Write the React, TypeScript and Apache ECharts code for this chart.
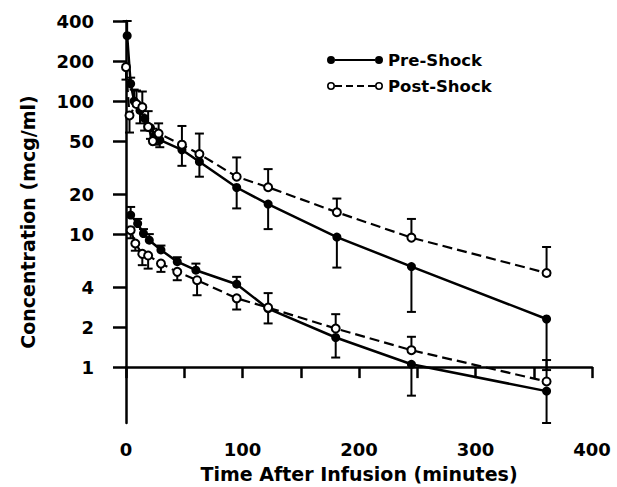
import React, { useEffect, useRef } from 'react';
import * as echarts from 'echarts';

// ---- Data ----
const preUpperTime = [1, 4, 7, 12, 16, 21, 25, 29, 48, 63, 95, 122, 181, 245, 361];
const preUpperConc = [310, 135, 100, 85, 74, 63, 55, 51, 43, 35, 22.4, 16.8, 9.5, 5.7, 2.3];
const preUpperErr = [400, 150, 122, 68, 60, 52, 47, 45, 32.6, 27, 15.6, 10.9, 5.6, 2.6, 0.95];

const postUpperTime = [0, 3, 9, 14, 19, 23, 28, 48, 63, 95, 122, 181, 245, 361];
const postUpperConc = [180, 78, 95, 90, 64, 50, 57, 47, 40, 27, 22.5, 14.6, 9.4, 5.1];
const postUpperErr = [145, 58, 120, 118, 84, 62, 68, 65, 57, 37.7, 30.8, 18.5, 13, 8.0];

const preLowerTime = [4, 10, 15, 20, 30, 44, 60, 95, 122, 180, 245, 361];
const preLowerConc = [13.9, 12, 10.1, 9, 7.6, 6.2, 5.35, 4.2, 2.75, 1.67, 1.05, 0.66];
const preLowerErr = [16, 13, 10.9, 10, 8.2, 6.7, 6.0, 4.77, 2.13, 1.18, 0.61, 0.38];

const postLowerTime = [4, 8, 14, 19, 30, 44, 61, 95, 122, 180, 245, 361];
const postLowerConc = [10.7, 8.5, 7.1, 6.9, 6.0, 5.2, 4.5, 3.29, 2.8, 1.95, 1.34, 0.78];
const postLowerErr = [9.3, 7.5, 5.84, 5.5, 5.2, 4.5, 3.47, 2.71, 3.6, 2.5, 1.69, 1.13];

const yTickValues = [1, 2, 4, 10, 20, 50, 100, 200, 400];
const yMin = 0.38;
const yMax = 400;
const xMin = 0;
const xMax = 400;
const xInterval = 50;

const FONT = '"DejaVu Sans", sans-serif';
const lg = (v: number) => Math.log10(v);

const prePath =
  'path://M0,5A4,4,0,1,1,8,5A4,4,0,1,1,0,5ZM48,5A4,4,0,1,1,56,5A4,4,0,1,1,48,5ZM8,4L48,4L48,6L8,6Z';
const postPath =
  'path://M0,5A4,4,0,1,1,8,5A4,4,0,1,1,0,5ZM1.6,5A2.4,2.4,0,1,0,6.4,5A2.4,2.4,0,1,0,1.6,5Z' +
  'M48,5A4,4,0,1,1,56,5A4,4,0,1,1,48,5ZM49.6,5A2.4,2.4,0,1,0,54.4,5A2.4,2.4,0,1,0,49.6,5Z' +
  'M8,4L15,4L15,6L8,6ZM19,4L26,4L26,6L19,6ZM30,4L37,4L37,6L30,6ZM41,4L48,4L48,6L41,6Z';

function lineData(t: number[], c: number[]) {
  return t.map((x, i) => [x, lg(c[i])]);
}

function errSeries(name: string, t: number[], c: number[], e: number[]) {
  return {
    name,
    type: 'custom',
    silent: true,
    z: 1,
    encode: { x: 0, y: [1, 2] },
    data: t.map((x, i) => [x, lg(c[i]), lg(e[i])]),
    renderItem: (_p: any, api: any) => {
      const p1 = api.coord([api.value(0), api.value(1)]);
      const p2 = api.coord([api.value(0), api.value(2)]);
      return {
        type: 'group',
        children: [
          {
            type: 'line',
            shape: { x1: p1[0], y1: p1[1], x2: p2[0], y2: p2[1] },
            style: { stroke: '#000', lineWidth: 2 },
          },
          {
            type: 'line',
            shape: { x1: p2[0] - 4.5, y1: p2[1], x2: p2[0] + 4.5, y2: p2[1] },
            style: { stroke: '#000', lineWidth: 2 },
          },
        ],
      };
    },
  };
}

function preLine(t: number[], c: number[]) {
  return {
    name: 'Pre-Shock',
    type: 'line',
    z: 3,
    data: lineData(t, c),
    symbol: 'circle',
    symbolSize: 9,
    itemStyle: { color: '#000' },
    lineStyle: { color: '#000', width: 2.5 },
  };
}

function postLine(t: number[], c: number[]) {
  return {
    name: 'Post-Shock',
    type: 'line',
    z: 3,
    data: lineData(t, c),
    symbol: 'emptyCircle',
    symbolSize: 8,
    itemStyle: { color: '#000', borderColor: '#000', borderWidth: 2 },
    lineStyle: { color: '#000', width: 2.2, type: [10, 5] },
  };
}

export default function App() {
  const ref = useRef<HTMLDivElement>(null);

  useEffect(() => {
    if (!ref.current) return;
    const chart = echarts.init(ref.current, null, { renderer: 'svg' });
    const option: any = {
      animation: false,
      backgroundColor: '#fff',
      color: ['#000'],
      textStyle: { fontFamily: FONT },
      grid: {
        left: 126,
        right: 25,
        top: 21,
        bottom: 64,
        containLabel: false,
        outerBoundsMode: 'none',
      },
      legend: {
        orient: 'vertical',
        left: 322,
        top: 46,
        itemWidth: 56,
        itemHeight: 8,
        itemGap: 8,
        selectedMode: false,
        textStyle: {
          fontFamily: FONT,
          fontWeight: 'bold',
          fontSize: 16.5,
          lineHeight: 18,
          color: '#000',
        },
        data: [
          { name: 'Pre-Shock', icon: prePath, itemStyle: { color: '#000', borderWidth: 0 } },
          { name: 'Post-Shock', icon: postPath, itemStyle: { color: '#000', borderWidth: 0 } },
        ],
      },
      xAxis: {
        type: 'value',
        min: xMin,
        max: xMax,
        interval: xInterval,
        offset: 1,
        name: 'Time After Infusion (minutes)',
        nameLocation: 'middle',
        nameGap: 40,
        nameTextStyle: { fontFamily: FONT, fontWeight: 'bold', fontSize: 19, color: '#000' },
        axisLine: { show: true, lineStyle: { color: '#000', width: 2.5 } },
        axisTick: { show: true, length: 11, lineStyle: { color: '#000', width: 2.5 } },
        axisLabel: {
          margin: 16,
          fontFamily: FONT,
          fontWeight: 'bold',
          fontSize: 18,
          color: '#000',
          formatter: (v: number) => (v % 100 === 0 ? String(v) : ''),
        },
        splitLine: { show: false },
      },
      yAxis: {
        type: 'value',
        min: lg(yMin),
        max: lg(yMax),
        offset: 15,
        name: 'Concentration (mcg/ml)',
        nameLocation: 'middle',
        nameGap: 74,
        nameTextStyle: { fontFamily: FONT, fontWeight: 'bold', fontSize: 19, color: '#000' },
        axisLine: { show: true, lineStyle: { color: '#000', width: 2.5 } },
        axisTick: {
          show: true,
          length: 13,
          customValues: yTickValues.map(lg),
          lineStyle: { color: '#000', width: 2.5 },
        },
        axisLabel: {
          margin: 17,
          fontFamily: FONT,
          fontWeight: 'bold',
          fontSize: 18,
          color: '#000',
          customValues: yTickValues.map(lg),
          formatter: (v: number) => String(Math.round(Math.pow(10, v))),
        },
        splitLine: { show: false },
      },
      series: [
        errSeries('errPreUpper', preUpperTime, preUpperConc, preUpperErr),
        errSeries('errPostUpper', postUpperTime, postUpperConc, postUpperErr),
        errSeries('errPreLower', preLowerTime, preLowerConc, preLowerErr),
        errSeries('errPostLower', postLowerTime, postLowerConc, postLowerErr),
        preLine(preUpperTime, preUpperConc),
        postLine(postUpperTime, postUpperConc),
        preLine(preLowerTime, preLowerConc),
        postLine(postLowerTime, postLowerConc),
      ],
    };
    chart.setOption(option);
    return () => chart.dispose();
  }, []);

  return (
    <div
      ref={ref}
      style={{ position: 'fixed', left: 0, top: 0, width: 617, height: 487, background: '#fff' }}
    />
  );
}
